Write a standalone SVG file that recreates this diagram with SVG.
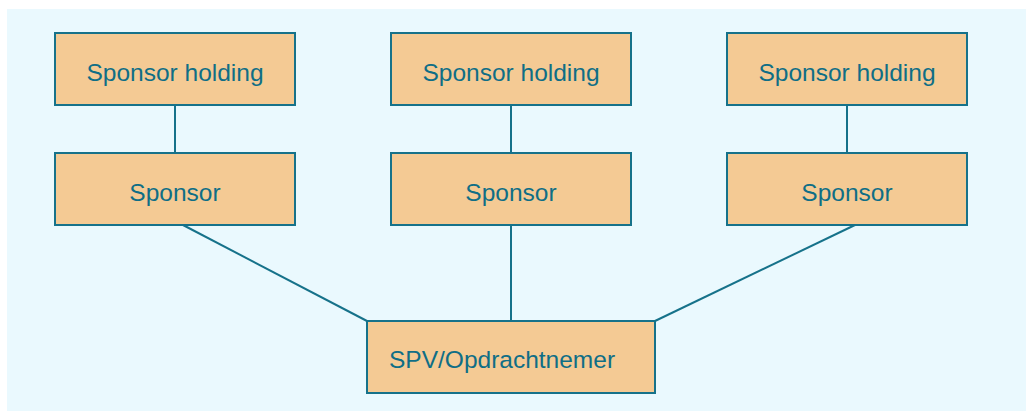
<svg xmlns="http://www.w3.org/2000/svg" width="1026" height="412" viewBox="0 0 1026 412">
<style>
.box{fill:#F4CA94;stroke:#16728A;stroke-width:2}
.lbl{font-family:"Liberation Sans",Arial,sans-serif;font-size:24.5px;fill:#0F6E86}
.c{text-anchor:middle}
.conn line{stroke:#16728A;stroke-width:2}
</style>
<rect x="7" y="9" width="1019" height="402" fill="#EAF9FE"/>
<g class="conn">
<line x1="175" y1="105" x2="175" y2="153"/>
<line x1="511" y1="105" x2="511" y2="153"/>
<line x1="847" y1="105" x2="847" y2="153"/>
<line x1="183" y1="225" x2="367" y2="321"/>
<line x1="511" y1="225" x2="511" y2="321"/>
<line x1="855" y1="225" x2="655" y2="321"/>
</g>
<g id="holding1"><rect class="box" x="55" y="33" width="240" height="72"/><text class="lbl c" x="175" y="81">Sponsor holding</text></g>
<g id="holding2"><rect class="box" x="391" y="33" width="240" height="72"/><text class="lbl c" x="511" y="81">Sponsor holding</text></g>
<g id="holding3"><rect class="box" x="727" y="33" width="240" height="72"/><text class="lbl c" x="847" y="81">Sponsor holding</text></g>
<g id="sponsor1"><rect class="box" x="55" y="153" width="240" height="72"/><text class="lbl c" x="175" y="201">Sponsor</text></g>
<g id="sponsor2"><rect class="box" x="391" y="153" width="240" height="72"/><text class="lbl c" x="511" y="201">Sponsor</text></g>
<g id="sponsor3"><rect class="box" x="727" y="153" width="240" height="72"/><text class="lbl c" x="847" y="201">Sponsor</text></g>
<g id="spv"><rect class="box" x="367" y="321" width="288" height="72"/><text class="lbl" x="389" y="368">SPV/Opdrachtnemer</text></g>
</svg>
